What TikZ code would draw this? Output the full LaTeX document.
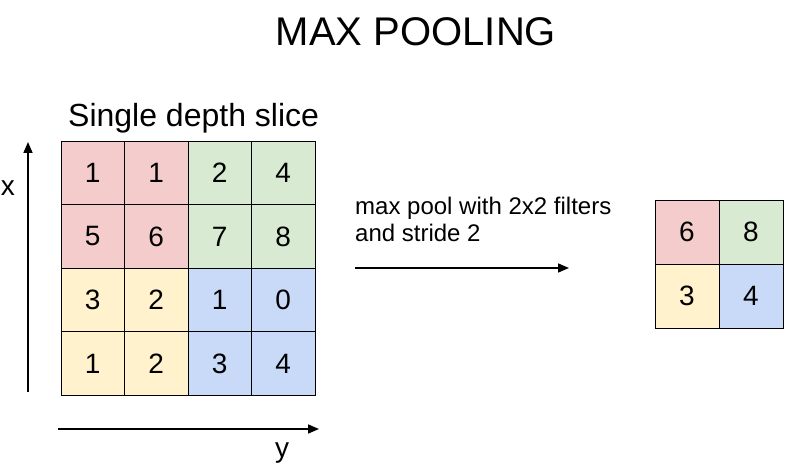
\documentclass[tikz,border=0pt]{standalone}
\usepackage{fontspec}
\setmainfont{Liberation Sans}
\usepackage{tikz}
\usetikzlibrary{arrows.meta, positioning}
\definecolor{poolred}{HTML}{F4CCCC}
\definecolor{poolgreen}{HTML}{D9EAD3}
\definecolor{poolyellow}{HTML}{FFF2CC}
\definecolor{poolblue}{HTML}{C9DAF8}

\begin{document}
\begin{tikzpicture}[x=1pt,y=1pt,on grid,node distance=63.5pt,
    cell/.style={draw=black,line width=0.9pt,minimum size=63.5pt,inner sep=0pt,
      font=\fontsize{28}{30}\selectfont},
    small/.style={cell,minimum size=64pt},
    axis/.style={line width=1.6pt,-{Triangle[length=11pt,width=9pt]}}]
    \useasboundingbox (0,0) rectangle (794,473);

      % titles
      \node[anchor=base,font=\fontsize{40}{46}\selectfont] (title) at (416,427) {MAX POOLING};
      \node[anchor=base west,inner sep=0pt,font=\fontsize{32}{36}\selectfont] (slice) at (68,346) {Single depth slice};

      % input slice
      \node[cell,fill=poolred]    (a11) at (92.75,300) {1};
      \node[cell,fill=poolred]    (a12) [right=of a11] {1};
      \node[cell,fill=poolgreen]  (a13) [right=of a12] {2};
      \node[cell,fill=poolgreen]  (a14) [right=of a13] {4};
      \node[cell,fill=poolred]    (a21) [below=of a11] {5};
      \node[cell,fill=poolred]    (a22) [right=of a21] {6};
      \node[cell,fill=poolgreen]  (a23) [right=of a22] {7};
      \node[cell,fill=poolgreen]  (a24) [right=of a23] {8};
      \node[cell,fill=poolyellow] (a31) [below=of a21] {3};
      \node[cell,fill=poolyellow] (a32) [right=of a31] {2};
      \node[cell,fill=poolblue]   (a33) [right=of a32] {1};
      \node[cell,fill=poolblue]   (a34) [right=of a33] {0};
      \node[cell,fill=poolyellow] (a41) [below=of a31] {1};
      \node[cell,fill=poolyellow] (a42) [right=of a41] {2};
      \node[cell,fill=poolblue]   (a43) [right=of a42] {3};
      \node[cell,fill=poolblue]   (a44) [right=of a43] {4};

      % axes
      \coordinate (xbot) at (28,81);
      \coordinate (xtop) at (28,331);
      \coordinate (yleft) at (58,44);
      \coordinate (yright) at (319,44);
      \draw[axis] (xbot) -- (xtop);
      \draw[axis] (yleft) -- (yright);
      \node[inner sep=0pt,font=\fontsize{28}{32}\selectfont] (xlab) at (8,285) {x};
      \node[anchor=base,inner sep=0pt,font=\fontsize{28}{32}\selectfont] (ylab) at (282,15.5) {y};

      % pooling step
      \node[anchor=base west,inner sep=0pt,font=\fontsize{24}{27}\selectfont] (op1) at (355,258) {max pool with 2x2 filters};
      \node[anchor=base west,inner sep=0pt,font=\fontsize{24}{27}\selectfont] (op2) at (355,231) {and stride 2};
      \coordinate (pstart) at (355,205);
      \coordinate (pend) at (569,205);
      \draw[axis] (pstart) -- (pend);

      % output
      \node[small,fill=poolred]    (b11) at (687,241) {6};
      \node[small,fill=poolgreen]  (b12) [right=64pt of b11] {8};
      \node[small,fill=poolyellow] (b21) [below=64pt of b11] {3};
      \node[small,fill=poolblue]   (b22) [right=64pt of b21] {4};
    \end{tikzpicture}
\end{document}
